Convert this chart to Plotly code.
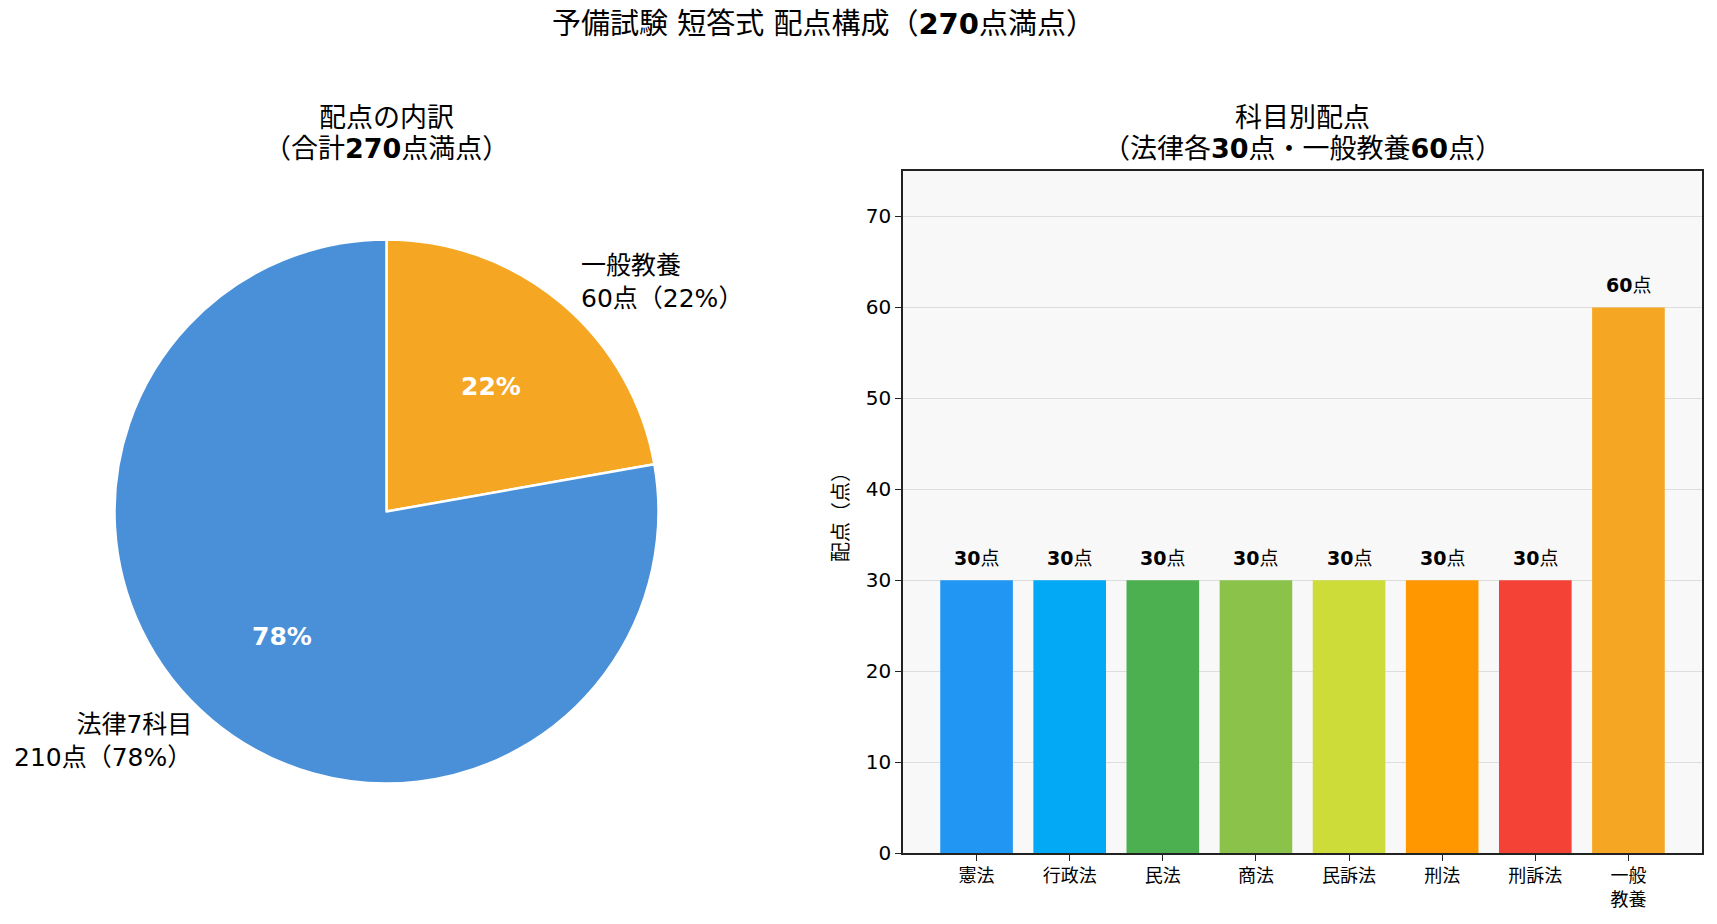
import math
import plotly.graph_objects as go

W, H = 1717, 924
FONT = "DejaVu Sans, Noto Sans CJK JP, sans-serif"

# ---- data ----
pie_labels = ["法律7科目", "一般教養"]
pie_values = [210, 60]
pie_colors = ["#4A90D9", "#F5A623"]

subjects = ["憲法", "行政法", "民法", "商法", "民訴法", "刑法", "刑訴法", "一般<br>教養"]
scores = [30, 30, 30, 30, 30, 30, 30, 60]
bar_colors = ["#2196F3", "#03A9F4", "#4CAF50", "#8BC34A", "#CDDC39", "#FF9800", "#F44336", "#F5A623"]
y_ticks = [0, 10, 20, 30, 40, 50, 60, 70]

# ---- layout geometry (pixels) ----
pie_cx, pie_cy, pie_r = 386.5, 511.5, 272.0
ax_l, ax_r, ax_t, ax_b = 903, 1702, 171, 853

fig = go.Figure()

# first slice runs counter-clockwise from 12 o'clock (drawn clockwise with reversed order)
fig.add_trace(go.Pie(
    labels=pie_labels[::-1], values=pie_values[::-1],
    marker=dict(colors=pie_colors[::-1], line=dict(color="white", width=2.5)),
    sort=False, direction="clockwise", rotation=0,
    textinfo="none", hoverinfo="label+value+percent", showlegend=False,
    domain=dict(x=[(pie_cx - pie_r) / W, (pie_cx + pie_r) / W],
                y=[1 - (pie_cy + pie_r) / H, 1 - (pie_cy - pie_r) / H]),
))

fig.add_trace(go.Bar(
    x=subjects, y=scores, marker=dict(color=bar_colors, line=dict(width=0)),
    width=0.78, showlegend=False, xaxis="x", yaxis="y",
))

annotations = []
total = sum(pie_values)
cum = 0
for lab, val in zip(pie_labels, pie_values):
    frac = val / total
    mid = math.radians(90 + (cum + frac / 2) * 360)
    cum += frac
    pct = round(frac * 100)
    # inside percentage
    ix = pie_cx + 0.6 * pie_r * math.cos(mid)
    iy = pie_cy - 0.6 * pie_r * math.sin(mid)
    annotations.append(dict(
        x=ix / W, y=1 - iy / H, xref="paper", yref="paper", showarrow=False,
        text=f"<b>{pct}%</b>", font=dict(family=FONT, size=25, color="white"),
        xanchor="center", yanchor="middle"))
    # outside label
    ox = pie_cx + 1.1 * pie_r * math.cos(mid)
    oy = pie_cy - 1.1 * pie_r * math.sin(mid)
    side = "left" if math.cos(mid) > 0 else "right"
    annotations.append(dict(
        x=ox / W, y=1 - oy / H, xref="paper", yref="paper", showarrow=False,
        text=f"{lab}<br>{val}点（{pct}%）", font=dict(family=FONT, size=25, color="black"),
        xanchor=side, yanchor="middle", align=side))

# bar value labels
for s, v in zip(subjects, scores):
    annotations.append(dict(
        x=s, y=v, xref="x", yref="y", showarrow=False, yshift=9,
        text=f"<b>{v}</b>点", font=dict(family=FONT, size=19, color="black"),
        xanchor="center", yanchor="bottom"))

# titles
def title_line(text, x, y, size):
    annotations.append(dict(
        x=x / W, y=1 - y / H, xref="paper", yref="paper", showarrow=False,
        text=text, font=dict(family=FONT, size=size, color="black"),
        xanchor="center", yanchor="middle"))

title_line("予備試験 短答式 配点構成（<b>270</b>点満点）", 823, 24, 29)
title_line("配点の内訳", pie_cx, 118, 27)
title_line("（合計<b>270</b>点満点）", pie_cx, 149, 27)
title_line("科目別配点", (ax_l + ax_r) / 2, 118, 27)
title_line("（法律各<b>30</b>点・一般教養<b>60</b>点）", (ax_l + ax_r) / 2, 149, 27)

fig.update_layout(
    width=W, height=H, margin=dict(l=0, r=0, t=0, b=0, autoexpand=False),
    paper_bgcolor="white", plot_bgcolor="#F8F8F8",
    font=dict(family=FONT, color="black"),
    annotations=annotations,
    xaxis=dict(
        domain=[ax_l / W, ax_r / W], range=[-0.79, 7.79], automargin=False,
        showline=True, mirror=True, linecolor="#222222", linewidth=1.6,
        ticks="outside", ticklen=6, tickwidth=1.3, tickcolor="#222222",
        tickfont=dict(family=FONT, size=18, color="black"),
        showgrid=False, zeroline=False,
    ),
    yaxis=dict(
        domain=[1 - ax_b / H, 1 - ax_t / H], range=[0, 75], automargin=False,
        tickvals=y_ticks,
        showline=True, mirror=True, linecolor="#222222", linewidth=1.6,
        ticks="outside", ticklen=6, tickwidth=1.3, tickcolor="#222222",
        tickfont=dict(family=FONT, size=20, color="black"),
        showgrid=True, gridcolor="#DDDDDD", gridwidth=1, zeroline=False,
        title=dict(text="配点（点）", font=dict(family=FONT, size=20, color="black"), standoff=12),
    ),
)

fig.write_html("out.html")
